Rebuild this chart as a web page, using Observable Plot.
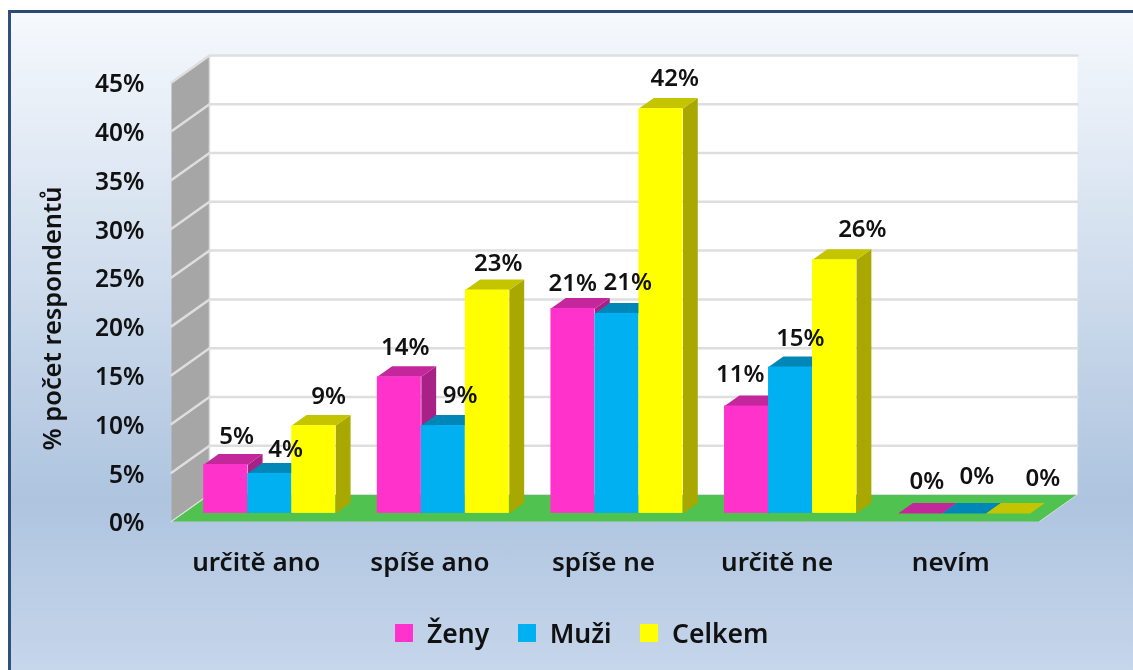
<!DOCTYPE html>
<html>
<head>
<meta charset="utf-8">
<script src="https://cdn.jsdelivr.net/npm/d3@7"></script>
<script src="https://cdn.jsdelivr.net/npm/@observablehq/plot@0.6"></script>
<style>
  html, body { margin: 0; padding: 0; background: #fff; }
  #frame {
    position: absolute; left: 8px; top: 10px; width: 1125px; height: 660px;
    box-sizing: border-box; border-left: 3px solid #2F5079; border-top: 3px solid #2C4A75;
    background: linear-gradient(#F6F9FD 0%, #AEC4DF 74%, #C6D6EB 100%);
  }
  #chart { position: absolute; left: 0; top: 0; filter: blur(0.45px); }
  #chart svg { background: none; display: block; }
  #legend { position: absolute; left: 395px; top: 615px; filter: blur(0.45px); }
  .lg-swatch { font-family: "Noto Sans", sans-serif; font-size: 26.5px; font-weight: 600; color: #111; margin-right: 28.5px !important; }
  .lg-swatch > svg { margin-right: 14px !important; }
</style>
</head>
<body>
<div id="frame"></div>
<div id="chart"></div>
<div id="legend"></div>
<script>
const categories = ["určitě ano", "spíše ano", "spíše ne", "určitě ne", "nevím"];
const seriesNames = ["Ženy", "Muži", "Celkem"];
const zeny = [5, 14, 21, 11, 0];
const muzi = [4.1, 9, 20.5, 15, 0];
const celkem = [9, 22.9, 41.5, 26, 0];
const yTicks = [0, 5, 10, 15, 20, 25, 30, 35, 40, 45];
const axisTitle = "% počet respondentů";

// colours: front, top, side
const frontColors = ["#FF33CC", "#00B0F0", "#FFFF00"];
const topColors = ["#C4279C", "#0087B8", "#C4C400"];
const sideColors = ["#A82186", "#00749E", "#A8A800"];

// hand placed offsets of the value labels, as in the original
const labelDx = [[-4, -9, -15, -21, -8], [1, 2, -4, -5, -2], [0, -4, -1, 13, 20]];
const labelDy = [[-18, -19, -14.5, -21, -21.5], [-13.5, -20, -21, -18, -26.5], [-19, -16, -19.5, -20, -24.5]];

// the oblique projection, in axis units
const depthX = 0.2189, depthY = 2.766;
const xMax = categories.length + depthX, yMax = 45 + depthY;
const gap = 0.12, barW = 0.2535, d0 = 0.3, d1 = 0.69;

const poly = (pts) => pts.map(([x, y]) => ({x, y}));
const face = (pts, fill, stroke = "none", strokeWidth = 1) =>
  Plot.line(poly(pts), {x: "x", y: "y", fill, stroke, strokeWidth});

const values = [zeny, muzi, celkem];
const marks = [];

// back wall, side wall, floor
marks.push(face([[depthX, depthY], [xMax, depthY], [xMax, yMax], [depthX, yMax]], "#FFFFFF"));
marks.push(face([[0, 0], [depthX, depthY], [depthX, yMax], [0, 45]], "#A6A6A6", "#DDDDDD", 1.5));
marks.push(face([[0, 0], [depthX, depthY], [xMax, depthY], [categories.length, 0]], "#50C24F", "#D8DCD8", 1));

// grid lines
yTicks.forEach((t) => {
  marks.push(Plot.line(poly([[0, t], [depthX, t + depthY], [xMax, t + depthY]]),
    {x: "x", y: "y", stroke: "#DEDEDE", strokeWidth: t === 0 ? 1 : 2.5}));
});

// bars, painted left to right
values.forEach((vals, s) => {
  vals.forEach((v, i) => {
    const x0 = i + gap + s * barW + d0 * depthX;
    const x1 = x0 + barW;
    const dx = (d1 - d0) * depthX, dy = (d1 - d0) * depthY;
    const y0 = d0 * depthY, yt = v + y0;
    if (v > 0) marks.push(face([[x1, y0], [x1 + dx, y0 + dy], [x1 + dx, yt + dy], [x1, yt]], sideColors[s]));
    marks.push(face([[x0, yt], [x1, yt], [x1 + dx, yt + dy], [x0 + dx, yt + dy]], topColors[s]));
    if (v > 0) marks.push(Plot.rect([{x0, x1, y0, yt}], {x1: "x0", x2: "x1", y1: "y0", y2: "yt", fill: frontColors[s]}));
  });
});

// value labels
values.forEach((vals, s) => {
  vals.forEach((v, i) => {
    const x = i + gap + s * barW + barW / 2 + d1 * depthX;
    const y = v + d1 * depthY;
    marks.push(Plot.text([Math.round(v) + "%"], {
      x: () => x, y: () => y, text: (d) => d,
      dx: labelDx[s][i], dy: labelDy[s][i],
      fontSize: 24, fontWeight: 600, fill: "#111"
    }));
  });
});

marks.push(Plot.axisY({
  ticks: yTicks, tickSize: 0, tickPadding: 27, label: null, dy: 2,
  tickFormat: (d) => d + "%", fontSize: 24.5, fontWeight: 600, fill: "#111"
}));
marks.push(Plot.axisX({
  ticks: categories.map((c, i) => i + 0.5), tickSize: 0, tickPadding: 31, label: null, dx: -2,
  tickFormat: (d) => categories[d - 0.5], fontSize: 26, fontWeight: 600, fill: "#111"
}));
marks.push(Plot.text([axisTitle], {
  frameAnchor: "left", textAnchor: "middle", rotate: -90, dx: -119, dy: 30,
  fontSize: 25.4, fontWeight: 600, fill: "#111"
}));

const chart = Plot.plot({
  width: 1133, height: 600,
  marginLeft: 171, marginRight: 56, marginTop: 55, marginBottom: 79,
  style: {fontFamily: "'Noto Sans', sans-serif", background: "none", overflow: "visible"},
  x: {type: "linear", domain: [0, xMax], axis: null},
  y: {type: "linear", domain: [0, yMax], axis: null},
  marks
});
document.getElementById("chart").appendChild(chart);

const legend = Plot.legend({
  color: {type: "ordinal", domain: seriesNames, range: frontColors},
  swatchSize: 18, className: "lg"
});
document.getElementById("legend").appendChild(legend);
</script>
</body>
</html>
